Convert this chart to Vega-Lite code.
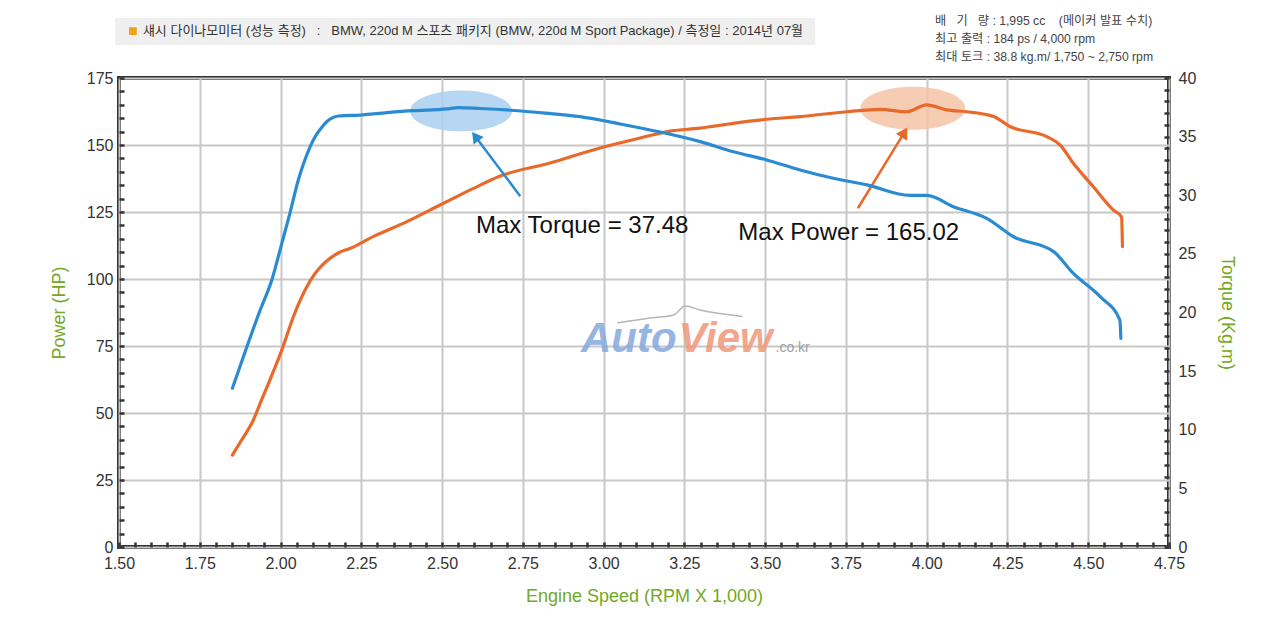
{
  "$schema": "https://vega.github.io/schema/vega-lite/v6.json",
  "width": 1050,
  "height": 469,
  "autosize": "none",
  "padding": {"left": 119, "top": 78, "right": 111, "bottom": 74},
  "background": "white",
  "datasets": {
    "power": [
      {"rpm": 1.851, "hp": 34.3}, {"rpm": 1.88, "hp": 40.0}, {"rpm": 1.916, "hp": 47.4},
      {"rpm": 1.94, "hp": 54.5}, {"rpm": 1.967, "hp": 62.3}, {"rpm": 2.004, "hp": 73.5},
      {"rpm": 2.04, "hp": 86.0}, {"rpm": 2.076, "hp": 95.9}, {"rpm": 2.107, "hp": 102.1},
      {"rpm": 2.13, "hp": 105.3}, {"rpm": 2.153, "hp": 107.7}, {"rpm": 2.18, "hp": 109.8},
      {"rpm": 2.215, "hp": 111.4}, {"rpm": 2.287, "hp": 115.8},
      {"rpm": 2.391, "hp": 121.4}, {"rpm": 2.494, "hp": 127.6}, {"rpm": 2.597, "hp": 133.8},
      {"rpm": 2.68, "hp": 138.4}, {"rpm": 2.834, "hp": 143.3}, {"rpm": 2.989, "hp": 148.9},
      {"rpm": 3.113, "hp": 152.6}, {"rpm": 3.206, "hp": 155.2}, {"rpm": 3.299, "hp": 156.3},
      {"rpm": 3.401, "hp": 158.1}, {"rpm": 3.505, "hp": 159.6}, {"rpm": 3.608, "hp": 160.6},
      {"rpm": 3.753, "hp": 162.4}, {"rpm": 3.856, "hp": 163.3}, {"rpm": 3.939, "hp": 162.4},
      {"rpm": 4.0, "hp": 165.0}, {"rpm": 4.062, "hp": 163.1}, {"rpm": 4.124, "hp": 162.4},
      {"rpm": 4.207, "hp": 160.6}, {"rpm": 4.259, "hp": 156.8}, {"rpm": 4.372, "hp": 153.1},
      {"rpm": 4.413, "hp": 150.0}, {"rpm": 4.454, "hp": 143.2}, {"rpm": 4.516, "hp": 134.4},
      {"rpm": 4.578, "hp": 125.7}, {"rpm": 4.603, "hp": 123.2}, {"rpm": 4.606, "hp": 112.1}
    ],
    "torque": [
      {"rpm": 1.851, "kgm": 13.54}, {"rpm": 1.885, "kgm": 16.23}, {"rpm": 1.937, "kgm": 20.21},
      {"rpm": 1.973, "kgm": 22.77}, {"rpm": 2.004, "kgm": 25.9}, {"rpm": 2.029, "kgm": 28.46},
      {"rpm": 2.055, "kgm": 31.3}, {"rpm": 2.081, "kgm": 33.43}, {"rpm": 2.107, "kgm": 34.99},
      {"rpm": 2.125, "kgm": 35.7}, {"rpm": 2.143, "kgm": 36.27}, {"rpm": 2.16, "kgm": 36.6},
      {"rpm": 2.179, "kgm": 36.76}, {"rpm": 2.246, "kgm": 36.84},
      {"rpm": 2.329, "kgm": 37.04}, {"rpm": 2.411, "kgm": 37.21}, {"rpm": 2.515, "kgm": 37.36},
      {"rpm": 2.55, "kgm": 37.48}, {"rpm": 2.618, "kgm": 37.4}, {"rpm": 2.711, "kgm": 37.25},
      {"rpm": 2.82, "kgm": 37.0}, {"rpm": 2.927, "kgm": 36.7}, {"rpm": 3.051, "kgm": 36.08},
      {"rpm": 3.175, "kgm": 35.39}, {"rpm": 3.299, "kgm": 34.57}, {"rpm": 3.402, "kgm": 33.71},
      {"rpm": 3.505, "kgm": 33.01}, {"rpm": 3.608, "kgm": 32.16}, {"rpm": 3.711, "kgm": 31.45},
      {"rpm": 3.815, "kgm": 30.88}, {"rpm": 3.949, "kgm": 29.99}, {"rpm": 4.001, "kgm": 29.99},
      {"rpm": 4.083, "kgm": 29.02}, {"rpm": 4.186, "kgm": 28.03}, {"rpm": 4.269, "kgm": 26.46},
      {"rpm": 4.393, "kgm": 25.19}, {"rpm": 4.454, "kgm": 23.34}, {"rpm": 4.537, "kgm": 21.35},
      {"rpm": 4.598, "kgm": 19.36}, {"rpm": 4.601, "kgm": 17.8}
    ]
  },
  "encoding": {
    "x": {
      "field": "rpm",
      "type": "quantitative",
      "scale": {"domain": [1.5, 4.75], "nice": false, "zero": false},
      "axis": {
        "title": "Engine Speed (RPM X 1,000)",
        "values": [1.5,1.55,1.6,1.65,1.7,1.75,1.8,1.85,1.9,1.95,2,2.05,2.1,2.15,2.2,2.25,2.3,2.35,2.4,2.45,2.5,2.55,2.6,2.65,2.7,2.75,2.8,2.85,2.9,2.95,3,3.05,3.1,3.15,3.2,3.25,3.3,3.35,3.4,3.45,3.5,3.55,3.6,3.65,3.7,3.75,3.8,3.85,3.9,3.95,4,4.05,4.1,4.15,4.2,4.25,4.3,4.35,4.4,4.45,4.5,4.55,4.6,4.65,4.7,4.75],
        "labelExpr": "abs(datum.value*4 - round(datum.value*4)) < 0.01 ? format(datum.value, '.2f') : ''",
        "grid": true,
        "gridColor": "#c8c8c8",
        "gridWidth": 2,
        "gridOpacity": {"condition": {"test": "abs(datum.value*4 - round(datum.value*4)) < 0.01", "value": 1}, "value": 0},
        "domain": false,
        "tickSize": -5,
        "tickWidth": 2.5,
        "tickColor": "#333333",
        "labelPadding": 13,
        "labelFontSize": 16,
        "labelColor": "#333333",
        "labelFlush": false,
        "titleColor": "#74a824",
        "titleFontSize": 18,
        "titleFontWeight": "normal",
        "titlePadding": 16
      }
    }
  },
  "layer": [
    {
      "encoding": {
        "y": {
          "field": "hp",
          "type": "quantitative",
          "scale": {"domain": [0, 175], "nice": false},
          "axis": {
            "title": "Power (HP)",
            "orient": "left",
            "values": [0,5,10,15,20,25,30,35,40,45,50,55,60,65,70,75,80,85,90,95,100,105,110,115,120,125,130,135,140,145,150,155,160,165,170,175],
            "labelExpr": "datum.value % 25 == 0 ? datum.label : ''",
            "grid": true,
            "gridColor": "#c8c8c8",
            "gridWidth": 2,
            "gridOpacity": {"condition": {"test": "datum.value % 25 == 0", "value": 1}, "value": 0},
            "domain": false,
            "tickSize": -5,
            "tickWidth": 2.5,
            "tickColor": "#333333",
            "labelPadding": 11,
            "labelFontSize": 16,
            "labelColor": "#333333",
            "labelFlush": false,
            "titleColor": "#74a824",
            "titleFontSize": 18,
            "titleFontWeight": "normal",
            "titlePadding": 18
          }
        }
      },
      "layer": [
        {
          "data": {"values": [{"rpm": 1.488, "hp": 197.4, "rpm2": 3.655, "hp2": 187.3}]},
          "mark": {"type": "rect", "color": "#efefef"},
          "encoding": {"x2": {"field": "rpm2"}, "y2": {"field": "hp2"}}
        },
        {
          "data": {"values": [{"rpm": 3.957, "hp": 163.7}]},
          "mark": {"type": "point", "shape": "M-1,0A1,0.41,0,1,1,1,0A1,0.41,0,1,1,-1,0Z", "size": 11025, "filled": true, "color": "#f5c3a6", "opacity": 0.85}
        },
        {
          "data": {"values": [
            {"rpm": 3.042, "hp": 83.6}, {"rpm": 3.15, "hp": 85.5}, {"rpm": 3.217, "hp": 86.6},
            {"rpm": 3.252, "hp": 89.9}, {"rpm": 3.299, "hp": 88.4}, {"rpm": 3.43, "hp": 86.0}
          ]},
          "mark": {"type": "line", "color": "#b5b5b5", "strokeWidth": 1.5, "interpolate": "monotone"}
        },
        {
          "data": {"values": [{"rpm": 2.93, "hp": 72.8, "label": "Auto"}]},
          "mark": {"type": "text", "align": "left", "baseline": "alphabetic", "fontSize": 42, "fontWeight": "bold", "fontStyle": "italic", "font": "Liberation Sans", "color": "#86a9dd", "opacity": 0.85},
          "encoding": {"text": {"field": "label"}}
        },
        {
          "data": {"values": [{"rpm": 3.232, "hp": 72.8, "label": "View"}]},
          "mark": {"type": "text", "align": "left", "baseline": "alphabetic", "fontSize": 42, "fontWeight": "bold", "fontStyle": "italic", "font": "Liberation Sans", "color": "#f0987a", "opacity": 0.85},
          "encoding": {"text": {"field": "label"}}
        },
        {
          "data": {"values": [{"rpm": 3.532, "hp": 72.8, "label": ".co.kr"}]},
          "mark": {"type": "text", "align": "left", "baseline": "alphabetic", "fontSize": 14, "font": "Liberation Sans", "color": "#a0a0a0"},
          "encoding": {"text": {"field": "label"}}
        },
        {
          "data": {"name": "power"},
          "mark": {"type": "line", "color": "#e8692a", "strokeWidth": 3.2, "strokeCap": "round", "interpolate": "monotone"}
        },
        {
          "data": {"values": [
            {"rpm": 2.742, "hp": 130.9, "rpm2": 2.603, "hp2": 153.2, "arrow": "torque"},
            {"rpm": 3.787, "hp": 126.4, "rpm2": 3.931, "hp2": 154.7, "arrow": "power"}
          ]},
          "mark": {"type": "rule", "strokeWidth": 2.5},
          "encoding": {
            "x2": {"field": "rpm2"},
            "y2": {"field": "hp2"},
            "color": {"field": "arrow", "type": "nominal", "scale": {"domain": ["torque", "power"], "range": ["#2a8bd2", "#e8692a"]}, "legend": null}
          }
        },
        {
          "data": {"values": [{"rpm": 2.603, "hp": 153.2}]},
          "mark": {"type": "point", "shape": "triangle-up", "size": 160, "filled": true, "color": "#2a8bd2", "opacity": 1, "angle": 323}
        },
        {
          "data": {"values": [{"rpm": 3.931, "hp": 154.7}]},
          "mark": {"type": "point", "shape": "triangle-up", "size": 170, "filled": true, "color": "#e8692a", "opacity": 1, "angle": 32}
        },
        {
          "data": {"values": [
            {"rpm": 2.605, "hp": 117.0, "label": "Max Torque = 37.48"},
            {"rpm": 3.417, "hp": 114.6, "label": "Max Power = 165.02"}
          ]},
          "mark": {"type": "text", "align": "left", "baseline": "alphabetic", "fontSize": 24, "font": "Liberation Sans", "color": "#111111"},
          "encoding": {"text": {"field": "label"}}
        },
        {
          "data": {"values": [{"rpm": 1.543, "hp": 192.5}]},
          "mark": {"type": "point", "shape": "square", "size": 60, "filled": true, "color": "#f2a21e", "opacity": 1}
        },
        {
          "data": {"values": [
            {"rpm": 1.574, "hp": 192.4, "label": "섀시 다이나모미터 (성능 측정)\u00a0\u00a0\u00a0:\u00a0\u00a0\u00a0BMW, 220d M 스포츠 패키지 (BMW, 220d M Sport Package) / 측정일 : 2014년 07월"}
          ]},
          "mark": {"type": "text", "align": "left", "baseline": "middle", "fontSize": 13, "font": "Liberation Sans Narrow, Liberation Sans, Noto Sans CJK KR", "color": "#333333"},
          "encoding": {"text": {"field": "label"}}
        },
        {
          "data": {"values": [
            {"rpm": 4.026, "hp": 196.4, "label": "배\u00a0\u00a0\u00a0기\u00a0\u00a0\u00a0량 : 1,995 cc\u00a0\u00a0\u00a0\u00a0(메이커 발표 수치)"},
            {"rpm": 4.026, "hp": 189.4, "label": "최고 출력 : 184 ps / 4,000 rpm"},
            {"rpm": 4.026, "hp": 182.7, "label": "최대 토크 : 38.8 kg.m/ 1,750 ~ 2,750 rpm"}
          ]},
          "mark": {"type": "text", "align": "left", "baseline": "middle", "fontSize": 12.2, "font": "Liberation Sans Narrow, Liberation Sans, Noto Sans CJK KR", "color": "#444444"},
          "encoding": {"text": {"field": "label"}}
        }
      ]
    },
    {
      "encoding": {
        "y": {
          "field": "kgm",
          "type": "quantitative",
          "scale": {"domain": [0, 40], "nice": false},
          "axis": {
            "title": "Torque (Kg.m)",
            "orient": "right",
            "values": [0,1,2,3,4,5,6,7,8,9,10,11,12,13,14,15,16,17,18,19,20,21,22,23,24,25,26,27,28,29,30,31,32,33,34,35,36,37,38,39,40],
            "labelExpr": "datum.value % 5 == 0 ? datum.label : ''",
            "grid": false,
            "domain": false,
            "tickSize": -5,
            "tickWidth": 2.5,
            "tickColor": "#333333",
            "labelPadding": 14,
            "labelFontSize": 16,
            "labelColor": "#333333",
            "labelFlush": false,
            "titleColor": "#74a824",
            "titleFontSize": 18,
            "titleFontWeight": "normal",
            "titlePadding": 22
          }
        }
      },
      "layer": [
        {
          "data": {"values": [{"rpm": 2.559, "kgm": 37.19}]},
          "mark": {"type": "point", "shape": "M-1,0A1,0.4,0,1,1,1,0A1,0.4,0,1,1,-1,0Z", "size": 10404, "filled": true, "color": "#a9cfee", "opacity": 0.85}
        },
        {
          "data": {"name": "torque"},
          "mark": {"type": "line", "color": "#2a8bd2", "strokeWidth": 3.2, "strokeCap": "round", "interpolate": "monotone"}
        }
      ]
    }
  ],
  "resolve": {"scale": {"y": "independent", "color": "independent"}},
  "config": {
    "font": "Liberation Sans",
    "view": {"stroke": "#333333", "strokeWidth": 4}
  }
}
